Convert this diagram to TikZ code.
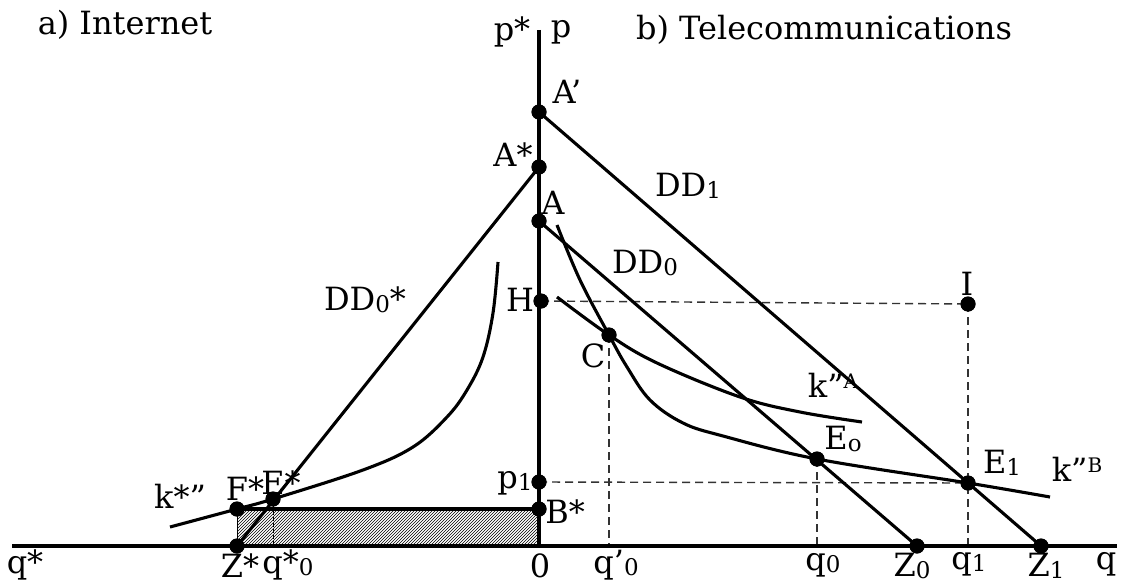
\documentclass[tikz,border=0pt]{standalone}
\usepackage{fontspec}
\setmainfont{DejaVu Serif}
\usetikzlibrary{patterns}
\newcommand\sbx[1]{\raisebox{-2pt}{\fontsize{23}{23}\selectfont #1}}
\newcommand\spx[1]{\raisebox{9pt}{\fontsize{20}{20}\selectfont #1}}
\begin{document}
\begin{tikzpicture}[x=1pt,y=-1pt,
  ln/.style={line width=3.1pt},
  dsh/.style={line width=1.4pt, dash pattern=on 8pt off 5pt, gray!40!black},
  dot/.style={circle, fill=black, inner sep=0pt, minimum size=15pt},
  lbl/.style={font=\fontsize{32}{34}\selectfont, inner sep=1pt}]
\useasboundingbox (0,0) rectangle (1126,586);
% axis end points
\coordinate (top) at (539,30);
\coordinate (xl) at (12,546);
\coordinate (xr) at (1117,546);
\coordinate (O) at (539,546);
% dots
\node[dot] (Ap) at (539,112) {};
\node[dot] (As) at (539,167) {};
\node[dot] (A) at (539,221) {};
\node[dot] (H) at (541,301) {};
\node[dot] (p1) at (539,482) {};
\node[dot] (Bs) at (539,509) {};
\node[dot] (Zs) at (237,546) {};
\node[dot] (Fs) at (237,509) {};
\node[dot] (Es) at (273,499) {};
\node[dot] (C) at (609,335) {};
\node[dot] (E0) at (817,459) {};
\node[dot] (E1) at (968,483) {};
\node[dot] (I) at (968,304) {};
\node[dot] (Z0) at (917,546) {};
\node[dot] (Z1) at (1041,546) {};
\coordinate (qs0) at (273,546);
\coordinate (qp0) at (609,546);
\coordinate (q0) at (817,546);
\coordinate (q1) at (968,546);
% hatch
\fill[pattern=north east lines] (Fs.center) rectangle (O);
\draw[line width=0.5pt] (Fs.center) -- (Zs.center);
\draw[ln] (Fs.center) -- (Bs.center);
% dashed lines
\draw[dsh] (H.center) -- (I.center);
\draw[dsh] (I.center) -- (q1);
\draw[dsh] (p1.center) -- (E1.center);
\draw[dsh] (C.center) -- (qp0);
\draw[dsh] (E0.center) -- (q0);
\draw[line width=0.8pt, dash pattern=on 4pt off 2pt] (Es.center) -- (qs0);
% axes
\draw[ln] (top) -- (O);
\draw[ln] (xl) -- (xr);
% demand lines
\draw[ln] (Ap.center) -- (Z1.center);
\draw[ln] (A.center) -- (Z0.center);
\draw[ln] (As.center) -- (Zs.center);
% curves
\draw[ln] plot[smooth, tension=0.6] coordinates {(170,527) (237,509) (273,499) (363,470) (413,447) (447,417) (467,390) (483,357) (493,313) (498,262)};
\draw[ln] plot[smooth, tension=0.6] coordinates {(557,225) (580,280) (609,335) (627,367) (650,400) (683,423) (723,436) (817,459) (968,483) (1050,497)};
\draw[ln] plot[smooth, tension=0.6] coordinates {(557,297) (609,335) (657,363) (740,397) (800,412) (862,422)};
% dots redrawn on top
\foreach \n in {Ap,As,A,H,p1,Bs,Zs,Fs,Es,C,E0,E1,I,Z0,Z1} \fill (\n) circle (7.5pt);
% labels
\node[lbl] (ta) at (125,25) {a) Internet};
\node[lbl] (tb) at (824,30) {b) Telecommunications};
\node[lbl] (lps) at (512,32) {p*};
\node[lbl] (lp) at (561,32) {p};
\node[lbl] (lAp) at (567,92) {A’};
\node[lbl] (lAs) at (513,155) {A*};
\node[lbl] (lA) at (553,203) {A};
\node[lbl] (lDD1) at (688,186) {DD\sbx{1}};
\node[lbl] (lDD0) at (645,263) {DD\sbx{0}};
\node[lbl] (lDDs) at (365,300) {DD\sbx{0}*};
\node[lbl] (lH) at (520,300) {H};
\node[lbl] (lC) at (593,356) {C};
\node[lbl] (lI) at (967,284) {I};
\node[lbl] (lkA) at (833,385) {k”\spx{A}};
\node[lbl] (lE0) at (843,439) {E\sbx{o}};
\node[lbl] (lE1) at (1002,463) {E\sbx{1}};
\node[lbl] (lkB) at (1077,469) {k”\spx{B}};
\node[lbl] (lp1) at (515,483) {p\sbx{1}};
\node[lbl] (lBs) at (565,512) {B*};
\node[lbl] (lks) at (180,496) {k*”};
\node[lbl] (lFs) at (245,489) {F*};
\node[lbl] (lEs) at (281,483) {E*};
\node[lbl] (lqs) at (25,565) {q*};
\node[lbl] (lZs) at (240,566) {Z*};
\node[lbl] (lqs0) at (288,565) {q*\sbx{0}};
\node[lbl] (l0) at (540,566) {0};
\node[lbl] (lqp0) at (616,565) {q’\sbx{0}};
\node[lbl] (lq0) at (823,565) {q\sbx{0}};
\node[lbl] (lZ0) at (912,566) {Z\sbx{0}};
\node[lbl] (lq1) at (969,564) {q\sbx{1}};
\node[lbl] (lZ1) at (1046,566) {Z\sbx{1}};
\node[lbl] (lq) at (1106,564) {q};
\end{tikzpicture}
\end{document}
